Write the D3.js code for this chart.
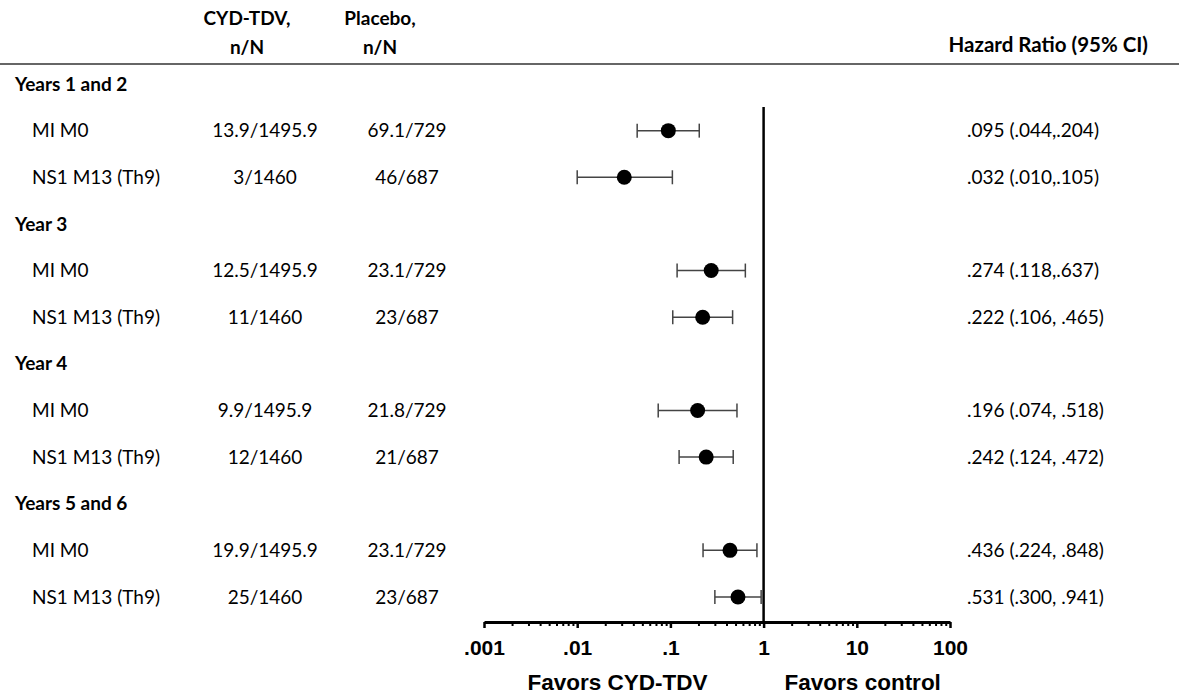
<!DOCTYPE html>
<html>
<head>
<meta charset="utf-8">
<script src="https://cdn.jsdelivr.net/npm/d3@7"></script>
<style>
  body { margin: 0; background: #fff; }
  text { font-family: Lato, "Noto Sans", sans-serif; fill: #000; }
  .axis text { font-family: "Liberation Sans", Arial, sans-serif; font-weight: bold; font-size: 21px; }
</style>
</head>
<body>
<div id="chart"></div>
<script>
// forest plot data
let groups = ["Years 1 and 2", "Year 3", "Year 4", "Years 5 and 6"];
let endpoints = ["MI M0", "NS1 M13 (Th9)"];
let cydTdv = ["13.9/1495.9", "3/1460", "12.5/1495.9", "11/1460", "9.9/1495.9", "12/1460", "19.9/1495.9", "25/1460"];
let placebo = ["69.1/729", "46/687", "23.1/729", "23/687", "21.8/729", "21/687", "23.1/729", "23/687"];
let hr = [0.095, 0.032, 0.274, 0.222, 0.196, 0.242, 0.436, 0.531];
let lower = [0.044, 0.010, 0.118, 0.106, 0.074, 0.124, 0.224, 0.300];
let upper = [0.204, 0.105, 0.637, 0.465, 0.518, 0.472, 0.848, 0.941];
let hrLabels = [".095 (.044,.204)", ".032 (.010,.105)", ".274 (.118,.637)", ".222 (.106, .465)",
                ".196 (.074, .518)", ".242 (.124, .472)", ".436 (.224, .848)", ".531 (.300, .941)"];
let tickValues = [0.001, 0.01, 0.1, 1, 10, 100];
let tickLabels = [".001", ".01", ".1", "1", "10", "100"];

let svgWidth = 1179;
let svgHeight = 696;

let svg = d3.select("#chart")
    .append("svg")
    .attr("width", svgWidth)
    .attr("height", svgHeight);

// build rows: group header followed by its two endpoints
let rows = [];
groups.forEach((g, gi) => {
    rows.push({id: "g" + gi, type: "group", label: g});
    endpoints.forEach((e, ei) => {
        let i = gi * endpoints.length + ei;
        rows.push({id: "r" + i, type: "row", label: e, i: i});
    });
});

let yScale = d3.scalePoint()
    .domain(rows.map(r => r.id))
    .range([84, 597]);

let xScale = d3.scaleLog()
    .domain([0.001, 100])
    .range([484, 950]);

let axisY = 622;

// header
let header = svg.append("g").attr("font-weight", "bold").style("font-size", "19px");
header.append("text").attr("x", 247).attr("y", 25).attr("text-anchor", "middle").text("CYD-TDV,");
header.append("text").attr("x", 247).attr("y", 54).attr("text-anchor", "middle").text("n/N");
header.append("text").attr("x", 380).attr("y", 25).attr("text-anchor", "middle").text("Placebo,");
header.append("text").attr("x", 380).attr("y", 54).attr("text-anchor", "middle").text("n/N");
header.append("text").attr("x", 1148).attr("y", 52).attr("text-anchor", "end")
    .style("font-size", "20.5px").text("Hazard Ratio (95% CI)");

svg.append("line")
    .attr("x1", 0).attr("x2", svgWidth)
    .attr("y1", 64).attr("y2", 64)
    .attr("stroke", "#666").attr("stroke-width", 2);

// row texts
let rowG = svg.append("g").style("font-size", "19px");
rows.forEach(r => {
    let y = yScale(r.id);
    if (r.type == "group") {
        rowG.append("text").attr("x", 15).attr("y", y).attr("dy", "0.35em")
            .attr("font-weight", "bold").text(r.label);
    } else {
        rowG.append("text").attr("x", 32).attr("y", y).attr("dy", "0.35em").text(r.label);
        rowG.append("text").attr("x", 265).attr("y", y).attr("dy", "0.35em")
            .attr("text-anchor", "middle").text(cydTdv[r.i]);
        rowG.append("text").attr("x", 407).attr("y", y).attr("dy", "0.35em")
            .attr("text-anchor", "middle").text(placebo[r.i]);
        rowG.append("text").attr("x", 967).attr("y", y).attr("dy", "0.35em").text(hrLabels[r.i]);
    }
});

// reference line at HR = 1
svg.append("line")
    .attr("x1", xScale(1)).attr("x2", xScale(1))
    .attr("y1", 107).attr("y2", axisY)
    .attr("stroke", "#000").attr("stroke-width", 2.5);

// error bars and points
let dataRows = rows.filter(r => r.type == "row");
let bars = svg.append("g").selectAll("g")
    .data(dataRows)
    .enter()
    .append("g");

bars.append("line")
    .attr("x1", d => xScale(lower[d.i]))
    .attr("x2", d => xScale(upper[d.i]))
    .attr("y1", d => yScale(d.id))
    .attr("y2", d => yScale(d.id))
    .attr("stroke", "#444").attr("stroke-width", 1.5);

[lower, upper].forEach(arr => {
    bars.append("line")
        .attr("x1", d => xScale(arr[d.i]))
        .attr("x2", d => xScale(arr[d.i]))
        .attr("y1", d => yScale(d.id) - 7)
        .attr("y2", d => yScale(d.id) + 7)
        .attr("stroke", "#444").attr("stroke-width", 1.5);
});

bars.append("circle")
    .attr("cx", d => xScale(hr[d.i]))
    .attr("cy", d => yScale(d.id))
    .attr("r", 7.5)
    .attr("fill", "#000");

// x axis: minor ticks then major ticks
let minorTicks = [];
tickValues.slice(0, -1).forEach(v => {
    for (let k = 2; k <= 9; k++) minorTicks.push(v * k);
});

svg.append("g")
    .attr("transform", `translate(0, ${axisY})`)
    .call(d3.axisBottom(xScale).tickValues(minorTicks).tickSize(4).tickFormat(""))
    .call(g => g.select(".domain").remove())
    .call(g => g.selectAll("line").attr("stroke", "#000").attr("stroke-width", 2));

let xAxis = svg.append("g")
    .attr("class", "axis")
    .attr("transform", `translate(0, ${axisY})`)
    .call(d3.axisBottom(xScale)
        .tickValues(tickValues)
        .tickSize(6)
        .tickSizeOuter(0)
        .tickPadding(12)
        .tickFormat((d, i) => tickLabels[i]));

xAxis.select(".domain").attr("stroke", "#000").attr("stroke-width", 3);
xAxis.selectAll("line").attr("stroke", "#000").attr("stroke-width", 2.5);
xAxis.selectAll("text").attr("fill", "#000");

let favors = svg.append("g").attr("class", "axis");
favors.append("text").attr("x", xScale(1) - 56).attr("y", 690)
    .attr("text-anchor", "end").style("font-size", "22.5px").text("Favors CYD-TDV");
favors.append("text").attr("x", xScale(1) + 21).attr("y", 690)
    .style("font-size", "22.5px").text("Favors control");
</script>
</body>
</html>
